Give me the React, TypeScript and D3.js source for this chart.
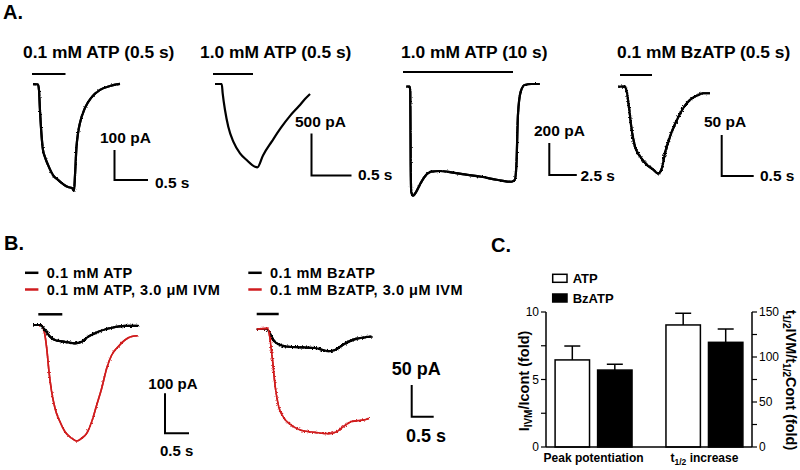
import React from 'react';
import * as d3 from 'd3';

type Pt = [number, number];

// ---------- Panel A data (time in s, current in pA) ----------
const panelATitles = ['0.1 mM ATP (0.5 s)', '1.0 mM ATP (0.5 s)', '1.0 mM ATP (10 s)', '0.1 mM BzATP (0.5 s)'];
const panelAStimDur = [0.5, 0.5, 10, 0.5];
const panelAScaleCurrent = [100, 500, 200, 50];
const panelAScaleTime = [0.5, 0.5, 2.5, 0.5];

const traceA1: Pt[] = [
  [0.015, 1], [0.09, 0], [0.104, -18], [0.119, -85], [0.142, -168], [0.164, -218], [0.194, -242],
  [0.239, -268], [0.313, -302], [0.388, -318], [0.463, -332], [0.537, -342], [0.597, -345],
  [0.627, -355], [0.642, -302], [0.664, -208], [0.687, -162], [0.716, -128], [0.791, -78],
  [0.891, -42], [1.015, -18], [1.164, -5], [1.313, 2],
];
const traceA2: Pt[] = [
  [0.025, 0], [0.109, 0], [0.121, -111], [0.15, -310], [0.191, -508], [0.254, -687], [0.338, -825],
  [0.421, -905], [0.525, -985], [0.554, -992], [0.625, -850], [0.738, -680], [0.85, -520],
  [0.963, -380], [1.075, -262], [1.15, -179], [1.213, -119],
];
const traceA3: Pt[] = [
  [0.3, 0], [0.61, 0], [0.66, -31], [0.7, -489], [0.75, -656], [0.91, -681], [1.21, -656],
  [1.52, -614], [1.97, -563], [2.57, -531], [3.34, -527], [4.39, -535], [5.61, -548], [7.12, -563],
  [8.64, -583], [9.85, -594], [10.16, -583], [10.31, -489], [10.45, -177], [10.7, -31], [11.06, 11],
  [11.66, 17], [12.43, 17],
];
const traceA4: Pt[] = [
  [-0.027, 0], [0.078, 0], [0.105, -6], [0.145, -28], [0.183, -53], [0.234, -73], [0.313, -85],
  [0.417, -95], [0.52, -101], [0.598, -106], [0.652, -100], [0.703, -81], [0.781, -61],
  [0.886, -41], [0.989, -26], [1.094, -16], [1.198, -11], [1.302, -8], [1.406, -8],
];

// ---------- Panel B data ----------
const panelBLegendBlack = ['0.1 mM ATP', '0.1 mM BzATP'];
const panelBLegendRed = ['0.1 mM ATP, 3.0 \u03bcM IVM', '0.1 mM BzATP, 3.0 \u03bcM IVM'];
const panelBStimDur = [0.5, 0.5];
const panelBScaleCurrent = [100, 50];
const panelBScaleTime = [0.5, 0.5];

const traceB1Control: Pt[] = [
  [-0.104, 0], [0.035, 0], [0.14, -12.5], [0.244, -29], [0.348, -37.5], [0.556, -42], [0.765, -46],
  [0.904, -42], [1.042, -29], [1.25, -17], [1.529, -7], [1.806, -2], [2.083, -2],
];
const traceB1IVM: Pt[] = [
  [-0.104, 0], [0.056, 0], [0.125, -17], [0.175, -58], [0.223, -117], [0.279, -167], [0.348, -208],
  [0.452, -242], [0.556, -267], [0.696, -283], [0.8, -290], [0.904, -283], [1.008, -271],
  [1.113, -242], [1.217, -200], [1.321, -158], [1.425, -108], [1.529, -75], [1.667, -54],
  [1.806, -37.5], [1.946, -29], [2.071, -27],
];
const traceB2Control: Pt[] = [
  [0, 0], [0.227, 0], [0.302, -7], [0.377, -17], [0.491, -24], [0.718, -28], [1.023, -29],
  [1.325, -30], [1.627, -35], [1.78, -33], [2.007, -23], [2.234, -16], [2.461, -13], [2.614, -12],
];
const traceB2IVM: Pt[] = [
  [0, 0], [0.25, 1], [0.302, -15], [0.355, -46], [0.416, -88], [0.491, -120], [0.605, -139],
  [0.795, -152], [1.023, -160], [1.325, -163], [1.627, -165], [1.818, -162], [1.968, -154],
  [2.159, -146], [2.386, -144], [2.552, -141],
];

// ---------- Panel C data ----------
const cCategories = ['Peak potentiation', 't1/2 increase'];
const cSeries = ['ATP', 'BzATP'];
const peakMean = [6.45, 5.7];
const peakSem = [1.03, 0.43];
const halfTimeMean = [135.6, 116.3];
const halfTimeSem = [13, 14.8];
const leftTicks = [0, 2.5, 5, 7.5, 10];
const leftTickLabels = [0, 5, 10];
const rightTicks = [0, 25, 50, 75, 100, 125, 150];
const rightTickLabels = [0, 50, 100, 150];

// ---------- layout ----------
const FONT = "'Liberation Sans', Arial, Helvetica, sans-serif";
const RED = '#d01c1f';

const aLayout = [
  { x0: 32, y0: 84.5, pxS: 67, pxPA: 0.3, stimY: 74, titleX: 23, barX: 114.5, barY: 180, curX: 100, curY: 137, timeX: 155, timeY: 182.5, filter: 'url(#noiseLight)' },
  { x0: 213, y0: 84, pxS: 80, pxPA: 0.084, stimY: 74, titleX: 200, barX: 311.5, barY: 175.5, curX: 295, curY: 121, timeX: 358, timeY: 174, filter: undefined },
  { x0: 403, y0: 86.7, pxS: 11, pxPA: 0.16, stimY: 72, titleX: 401, barX: 549.3, barY: 175, curX: 534, curY: 130, timeX: 580.5, timeY: 175, filter: 'url(#noiseLight)' },
  { x0: 620, y0: 86.7, pxS: 64, pxPA: 0.82, stimY: 75, titleX: 617, barX: 721.7, barY: 176, curX: 704, curY: 121.7, timeX: 760, timeY: 175.7, filter: 'url(#noiseHeavy)' },
];
const aTraces = [traceA1, traceA2, traceA3, traceA4];

const bLayout = [
  { x0: 38.3, y0: 325, pxS: 48, pxPA: 0.4, stimY: 314.3, barX: 165, barY: 433.3, curX: 148.3, curY: 383.3, timeX: 160, timeY: 450, labelSize: 15, legX: 25, redFirst: true },
  { x0: 256.7, y0: 329, pxS: 44, pxPA: 0.634, stimY: 314, barX: 411.7, barY: 416.7, curX: 391.7, curY: 369, timeX: 406, timeY: 436, labelSize: 18, legX: 248.3, redFirst: false },
];
const bControl = [traceB1Control, traceB2Control];
const bIVM = [traceB1IVM, traceB2IVM];

function scalesFor(L: { x0: number; y0: number; pxS: number; pxPA: number }) {
  const x = d3.scaleLinear().domain([0, 1]).range([L.x0, L.x0 + L.pxS]);
  const y = d3.scaleLinear().domain([0, -1]).range([L.y0, L.y0 + L.pxPA]);
  const line = d3
    .line<Pt>()
    .x((d) => x(d[0]))
    .y((d) => y(d[1]))
    .curve(d3.curveMonotoneX);
  return { x, y, line };
}

function ScaleBar({ x, y, barX, barY, cur, dur, curLabel, timeLabel, curX, curY, timeX, timeY, size }: any) {
  const v = Math.abs(y(-cur) - y(0));
  const h = x(dur) - x(0);
  return (
    <g>
      <path d={`M${barX},${barY - v}V${barY}H${barX + h}`} fill="none" stroke="#000" strokeWidth={2} />
      <text x={curX} y={curY} dominantBaseline="central" fontSize={size} fontWeight="bold">{curLabel}</text>
      <text x={timeX} y={timeY} dominantBaseline="central" fontSize={size} fontWeight="bold">{timeLabel}</text>
    </g>
  );
}

export default function App() {
  // Panel C scales
  const x0 = d3.scaleBand().domain(cCategories).range([546, 752]).paddingInner(0.306).paddingOuter(0.082);
  const x1 = d3.scaleBand().domain(cSeries).range([0, x0.bandwidth()]).paddingInner(0.19);
  const yL = d3.scaleLinear().domain([0, 10]).range([447, 312]);
  const yR = d3.scaleLinear().domain([0, 150]).range([447, 312]);
  const groups = [
    { cat: cCategories[0], mean: peakMean, sem: peakSem, y: yL },
    { cat: cCategories[1], mean: halfTimeMean, sem: halfTimeSem, y: yR },
  ];

  return (
    <svg width={800} height={470} style={{ position: 'absolute', left: 0, top: 0, background: '#fff' }} fontFamily={FONT}>
      <defs>
        <filter id="noiseLight" x="-5%" y="-10%" width="110%" height="120%">
          <feTurbulence type="fractalNoise" baseFrequency="0.8" numOctaves={1} seed={2} result="n" />
          <feDisplacementMap in="SourceGraphic" in2="n" scale={2.5} xChannelSelector="R" yChannelSelector="G" result="d" />
          <feMerge>
            <feMergeNode in="d" />
            <feMergeNode in="SourceGraphic" />
          </feMerge>
        </filter>
        <filter id="noiseHeavy" x="-5%" y="-10%" width="110%" height="120%">
          <feTurbulence type="fractalNoise" baseFrequency="0.8" numOctaves={1} seed={5} result="n" />
          <feDisplacementMap in="SourceGraphic" in2="n" scale={4.5} xChannelSelector="R" yChannelSelector="G" result="d" />
          <feMerge>
            <feMergeNode in="d" />
            <feMergeNode in="SourceGraphic" />
          </feMerge>
        </filter>
      </defs>
      <rect width={800} height={470} fill="#fff" />

      {/* Panel labels */}
      <text x={3} y={19} fontSize={20} fontWeight="bold">A.</text>
      <text x={4} y={250} fontSize={20} fontWeight="bold">B.</text>
      <text x={491} y={252} fontSize={20} fontWeight="bold">C.</text>

      {/* Panel A */}
      {aLayout.map((L, i) => {
        const { x, y, line } = scalesFor(L);
        return (
          <g key={'a' + i}>
            <text x={L.titleX} y={58} fontSize={17.4} fontWeight="bold">{panelATitles[i]}</text>
            <line x1={x(0)} x2={x(panelAStimDur[i])} y1={L.stimY} y2={L.stimY} stroke="#000" strokeWidth={2} />
            <path d={line(aTraces[i]) || ''} fill="none" stroke="#000" strokeWidth={2.2} strokeLinejoin="round" filter={L.filter} />
            <ScaleBar x={x} y={y} barX={L.barX} barY={L.barY} cur={panelAScaleCurrent[i]} dur={panelAScaleTime[i]}
              curLabel={`${panelAScaleCurrent[i]} pA`} timeLabel={`${panelAScaleTime[i]} s`}
              curX={L.curX} curY={L.curY} timeX={L.timeX} timeY={L.timeY} size={15.5} />
          </g>
        );
      })}

      {/* Panel B */}
      {bLayout.map((L, i) => {
        const { x, y, line } = scalesFor(L);
        const black = (
          <path key="k" d={line(bControl[i]) || ''} fill="none" stroke="#000" strokeWidth={2.2} filter="url(#noiseHeavy)" />
        );
        const red = (
          <path key="r" d={line(bIVM[i]) || ''} fill="none" stroke={RED} strokeWidth={1.6} filter={i === 1 ? 'url(#noiseHeavy)' : 'url(#noiseLight)'} />
        );
        return (
          <g key={'b' + i}>
            <line x1={L.legX} x2={L.legX + 13.4} y1={272.8} y2={272.8} stroke="#000" strokeWidth={2.5} />
            <text x={L.legX + 21.7} y={272.8} dominantBaseline="central" fontSize={14.5} fontWeight="bold" letterSpacing={0.55}>{panelBLegendBlack[i]}</text>
            <line x1={L.legX} x2={L.legX + 13.4} y1={289.5} y2={289.5} stroke={RED} strokeWidth={2.5} />
            <text x={L.legX + 21.7} y={289.5} dominantBaseline="central" fontSize={14.5} fontWeight="bold" letterSpacing={0.55}>{panelBLegendRed[i]}</text>
            <line x1={x(0)} x2={x(panelBStimDur[i])} y1={L.stimY} y2={L.stimY} stroke="#000" strokeWidth={2.5} />
            {L.redFirst ? [red, black] : [black, red]}
            <ScaleBar x={x} y={y} barX={L.barX} barY={L.barY} cur={panelBScaleCurrent[i]} dur={panelBScaleTime[i]}
              curLabel={`${panelBScaleCurrent[i]} pA`} timeLabel={`${panelBScaleTime[i]} s`}
              curX={L.curX} curY={L.curY} timeX={L.timeX} timeY={L.timeY} size={L.labelSize} />
          </g>
        );
      })}

      {/* Panel C */}
      <g>
        {/* legend */}
        <rect x={552.7} y={274.3} width={14.3} height={8} fill="#fff" stroke="#000" strokeWidth={1.5} />
        <text x={572.7} y={278.3} dominantBaseline="central" fontSize={13} fontWeight="bold">{cSeries[0]}</text>
        <rect x={552.7} y={294} width={14.3} height={8} fill="#000" stroke="#000" strokeWidth={1.5} />
        <text x={572.7} y={298} dominantBaseline="central" fontSize={13} fontWeight="bold">{cSeries[1]}</text>

        {/* bars */}
        {groups.map((g, gi) => (
          <g key={'g' + gi} transform={`translate(${x0(g.cat)},0)`}>
            {cSeries.map((s, si) => {
              const bx = x1(s) as number;
              const bw = x1.bandwidth();
              const top = g.y(g.mean[si]);
              const err = g.y(g.mean[si] + g.sem[si]);
              const cx = bx + bw / 2;
              return (
                <g key={s}>
                  <line x1={cx} x2={cx} y1={top} y2={err} stroke="#000" strokeWidth={1.5} />
                  <line x1={cx - 8} x2={cx + 8} y1={err} y2={err} stroke="#000" strokeWidth={1.5} />
                  <rect x={bx} y={top} width={bw} height={447 - top} fill={si === 0 ? '#fff' : '#000'} stroke="#000" strokeWidth={1.5} />
                </g>
              );
            })}
          </g>
        ))}

        {/* axes */}
        <line x1={546} x2={546} y1={yL(0)} y2={yL(10)} stroke="#000" strokeWidth={1.5} />
        <line x1={752} x2={752} y1={yR(0)} y2={yR(150)} stroke="#000" strokeWidth={1.5} />
        <line x1={546} x2={752} y1={447} y2={447} stroke="#000" strokeWidth={1.5} />
        {leftTicks.map((t) => (
          <line key={'lt' + t} x1={541} x2={546} y1={yL(t)} y2={yL(t)} stroke="#000" strokeWidth={1.2} />
        ))}
        {leftTickLabels.map((t) => (
          <text key={'ll' + t} x={539} y={yL(t)} textAnchor="end" dominantBaseline="central" fontSize={12}>{t}</text>
        ))}
        {rightTicks.map((t) => (
          <line key={'rt' + t} x1={752} x2={757} y1={yR(t)} y2={yR(t)} stroke="#000" strokeWidth={1.2} />
        ))}
        {rightTickLabels.map((t) => (
          <text key={'rl' + t} x={759} y={yR(t)} textAnchor="start" dominantBaseline="central" fontSize={12}>{t}</text>
        ))}

        {/* category labels */}
        <text x={(x0(cCategories[0]) as number) + x0.bandwidth() / 2} y={462} textAnchor="middle" fontSize={12} fontWeight="bold">
          {cCategories[0]}
        </text>
        <text x={(x0(cCategories[1]) as number) + x0.bandwidth() / 2} y={462} textAnchor="middle" fontSize={12} fontWeight="bold">
          t<tspan dy={3} fontSize={8.5}>1/2</tspan><tspan dy={-3}> increase</tspan>
        </text>

        {/* axis titles */}
        <text transform="translate(529,381) rotate(-90)" textAnchor="middle" fontSize={14.5} fontWeight="bold">
          I<tspan dy={3} fontSize={10}>IVM</tspan><tspan dy={-3}>/Icont (fold)</tspan>
        </text>
        <text transform="translate(786,380) rotate(90)" textAnchor="middle" fontSize={14.5} fontWeight="bold">
          t<tspan dy={3} fontSize={10}>1/2</tspan><tspan dy={-3}>IVM/t</tspan><tspan dy={3} fontSize={10}>1/2</tspan><tspan dy={-3}>Cont (fold)</tspan>
        </text>
      </g>
    </svg>
  );
}
